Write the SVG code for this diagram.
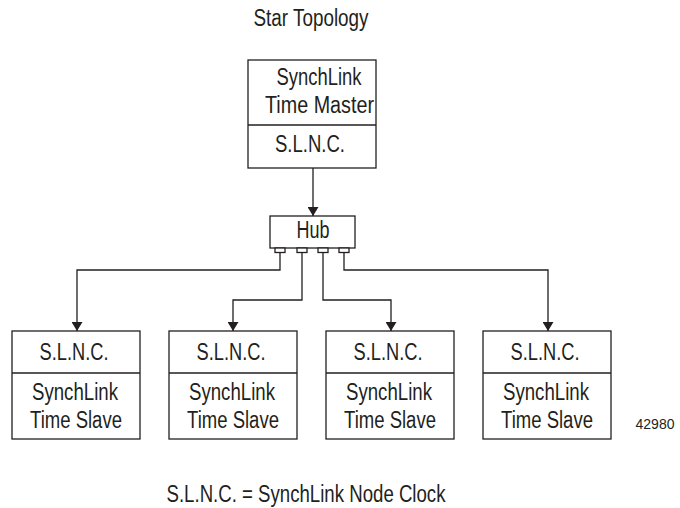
<svg xmlns="http://www.w3.org/2000/svg" width="680" height="508" viewBox="0 0 680 508">
<defs>
<style>
text{font-family:"Liberation Sans",Arial,sans-serif;font-size:23px;fill:#231f20;text-anchor:middle}
.box{fill:#fff;stroke:#231f20;stroke-width:1.3}
.ln{fill:none;stroke:#231f20;stroke-width:1.3}
.small{font-size:14px}
</style>
<marker id="ah" viewBox="0 0 10 10" refX="10" refY="5" markerWidth="9" markerHeight="11" markerUnits="userSpaceOnUse" orient="auto-start-reverse" preserveAspectRatio="none">
<path d="M0,0 L10,5 L0,10 Z" fill="#231f20"/>
</marker>
</defs>
<rect width="680" height="508" fill="#fff"/>
<text x="311" y="26" textLength="115" lengthAdjust="spacingAndGlyphs">Star Topology</text>

<g id="connectors">
<path class="ln" d="M313,168 V216" marker-end="url(#ah)"/>
<path class="ln" d="M280,252 V270 H77 V331" marker-end="url(#ah)"/>
<path class="ln" d="M302,252 V300 H233 V331" marker-end="url(#ah)"/>
<path class="ln" d="M323,252 V300 H391 V331" marker-end="url(#ah)"/>
<path class="ln" d="M344,252 V270 H548 V331" marker-end="url(#ah)"/>
</g>

<g id="master">
<rect class="box" x="248" y="60" width="128" height="108"/>
<line class="ln" x1="248" y1="125" x2="376" y2="125"/>
<text x="319" y="85" textLength="85" lengthAdjust="spacingAndGlyphs">SynchLink</text>
<text x="319.5" y="113" textLength="109" lengthAdjust="spacingAndGlyphs">Time Master</text>
<text x="310" y="152" textLength="70" lengthAdjust="spacingAndGlyphs">S.L.N.C.</text>
</g>

<g id="hub">
<rect class="box" x="270" y="216" width="85" height="32"/>
<text x="313" y="238" textLength="33" lengthAdjust="spacingAndGlyphs">Hub</text>
<rect class="box" x="275" y="248" width="10" height="4.5"/>
<rect class="box" x="297" y="248" width="10" height="4.5"/>
<rect class="box" x="318" y="248" width="10" height="4.5"/>
<rect class="box" x="339" y="248" width="10" height="4.5"/>
</g>

<g id="slave1">
<rect class="box" x="12" y="331" width="128" height="108"/>
<line class="ln" x1="12" y1="373" x2="140" y2="373"/>
<text x="74" y="360" textLength="69" lengthAdjust="spacingAndGlyphs">S.L.N.C.</text>
<text x="75" y="400" textLength="86" lengthAdjust="spacingAndGlyphs">SynchLink</text>
<text x="76" y="428" textLength="92" lengthAdjust="spacingAndGlyphs">Time Slave</text>
</g>
<g id="slave2">
<rect class="box" x="169" y="331" width="128" height="108"/>
<line class="ln" x1="169" y1="373" x2="297" y2="373"/>
<text x="231" y="360" textLength="69" lengthAdjust="spacingAndGlyphs">S.L.N.C.</text>
<text x="232" y="400" textLength="86" lengthAdjust="spacingAndGlyphs">SynchLink</text>
<text x="233" y="428" textLength="92" lengthAdjust="spacingAndGlyphs">Time Slave</text>
</g>
<g id="slave3">
<rect class="box" x="326" y="331" width="128" height="108"/>
<line class="ln" x1="326" y1="373" x2="454" y2="373"/>
<text x="388" y="360" textLength="69" lengthAdjust="spacingAndGlyphs">S.L.N.C.</text>
<text x="389" y="400" textLength="86" lengthAdjust="spacingAndGlyphs">SynchLink</text>
<text x="390" y="428" textLength="92" lengthAdjust="spacingAndGlyphs">Time Slave</text>
</g>
<g id="slave4">
<rect class="box" x="483" y="331" width="128" height="108"/>
<line class="ln" x1="483" y1="373" x2="611" y2="373"/>
<text x="545" y="360" textLength="69" lengthAdjust="spacingAndGlyphs">S.L.N.C.</text>
<text x="546" y="400" textLength="86" lengthAdjust="spacingAndGlyphs">SynchLink</text>
<text x="547" y="428" textLength="92" lengthAdjust="spacingAndGlyphs">Time Slave</text>
</g>

<text class="small" x="655" y="429">42980</text>
<text x="306" y="502" textLength="279" lengthAdjust="spacingAndGlyphs">S.L.N.C. = SynchLink Node Clock</text>
</svg>
